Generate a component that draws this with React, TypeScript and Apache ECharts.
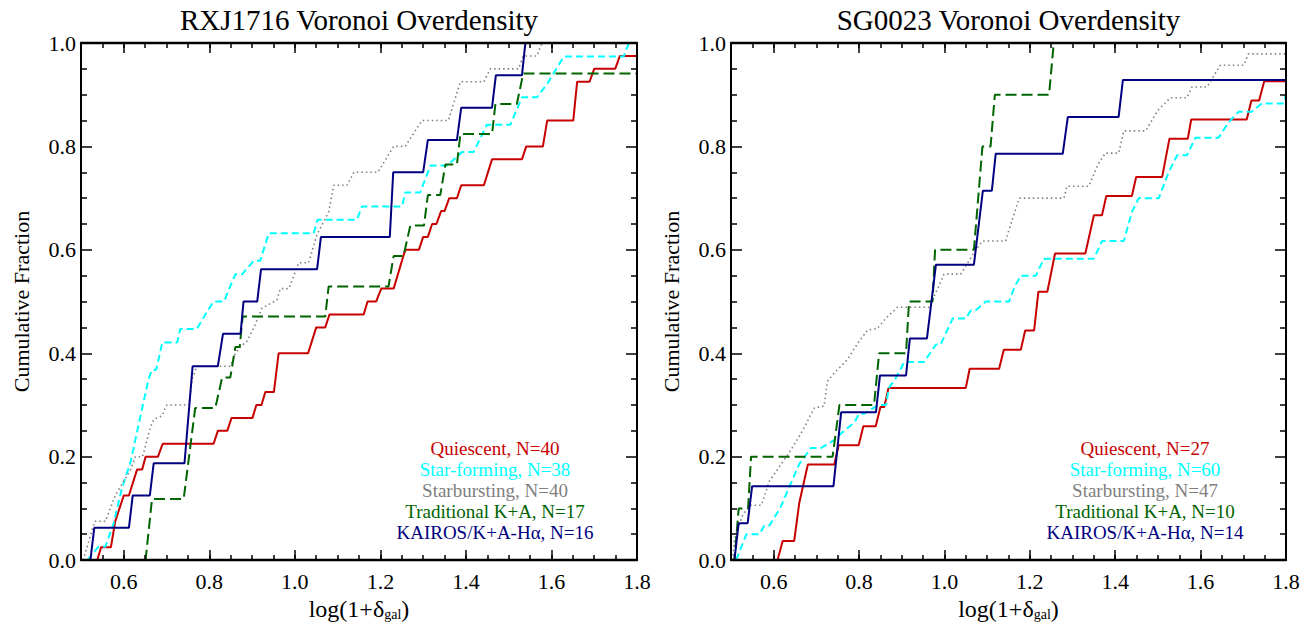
import React, { useEffect, useRef } from 'react';
import * as echarts from 'echarts';

const FONT = '"Liberation Serif", "Times New Roman", Times, serif';

// ---- axes / ticks ----
const X_MIN = 0.5;
const X_MAX = 1.8;
const xMajorTicks = [0.6, 0.8, 1.0, 1.2, 1.4, 1.6, 1.8];
const Y_MIN = 0;
const Y_MAX = 1;

const panelTitles = ['RXJ1716 Voronoi Overdensity', 'SG0023 Voronoi Overdensity'];
const yAxisTitle = 'Cumulative Fraction';

const seriesNames = ['Quiescent', 'Star-forming', 'Starbursting', 'Traditional K+A', 'KAIROS/K+A-Hα'];
const countsRXJ = [40, 38, 40, 17, 16];
const countsSG = [27, 60, 47, 10, 14];
const seriesColors = ['#C80000', '#00FFFF', '#7F7F7F', '#006400', '#000080'];

// ---- RXJ1716 cumulative fractions [log(1+delta), fraction] ----
const rxjQuiescent = [
  [0.538, 0], [0.547, 0.025], [0.570, 0.025], [0.580, 0.075], [0.600, 0.125], [0.612, 0.125], [0.631, 0.175], [0.643, 0.175],
  [0.651, 0.2], [0.680, 0.2], [0.691, 0.225], [0.810, 0.225], [0.820, 0.25], [0.842, 0.25], [0.852, 0.275], [0.901, 0.275],
  [0.910, 0.3], [0.922, 0.3], [0.931, 0.325], [0.951, 0.325], [0.962, 0.4], [1.031, 0.4], [1.050, 0.45], [1.071, 0.45],
  [1.081, 0.475], [1.161, 0.475], [1.170, 0.5], [1.190, 0.5], [1.202, 0.525], [1.231, 0.525], [1.258, 0.6], [1.290, 0.6],
  [1.300, 0.625], [1.311, 0.625], [1.321, 0.65], [1.331, 0.65], [1.342, 0.675], [1.350, 0.675], [1.361, 0.7], [1.379, 0.7],
  [1.389, 0.725], [1.442, 0.725], [1.461, 0.775], [1.531, 0.775], [1.541, 0.8], [1.580, 0.8], [1.590, 0.85], [1.651, 0.85],
  [1.660, 0.925], [1.689, 0.925], [1.700, 0.95], [1.749, 0.95], [1.760, 0.975], [1.800, 0.975],
];
const rxjStarForming = [
  [0.515, 0], [0.541, 0.026], [0.557, 0.026], [0.576, 0.07], [0.596, 0.14], [0.616, 0.19], [0.635, 0.263], [0.658, 0.35],
  [0.666, 0.368], [0.676, 0.368], [0.690, 0.421], [0.725, 0.421], [0.732, 0.447], [0.771, 0.447], [0.790, 0.474], [0.810, 0.5],
  [0.834, 0.5], [0.861, 0.553], [0.877, 0.553], [0.904, 0.579], [0.919, 0.579], [0.939, 0.632], [1.044, 0.632], [1.053, 0.658],
  [1.145, 0.658], [1.157, 0.684], [1.251, 0.684], [1.258, 0.711], [1.293, 0.711], [1.317, 0.763], [1.356, 0.763], [1.391, 0.789],
  [1.418, 0.789], [1.449, 0.842], [1.504, 0.842], [1.531, 0.895], [1.566, 0.895], [1.590, 0.921], [1.629, 0.974], [1.769, 0.974],
  [1.781, 1.0], [1.8, 1.0],
];
const rxjStarburst = [
  [0.505, 0], [0.532, 0.075], [0.557, 0.075], [0.580, 0.125], [0.616, 0.175], [0.627, 0.2], [0.644, 0.2], [0.651, 0.222],
  [0.662, 0.256], [0.670, 0.272], [0.690, 0.279], [0.697, 0.295], [0.701, 0.3], [0.752, 0.3], [0.760, 0.35], [0.771, 0.375],
  [0.849, 0.375], [0.861, 0.4], [0.873, 0.413], [0.888, 0.423], [0.904, 0.449], [0.923, 0.487], [0.958, 0.503], [0.966, 0.525],
  [0.986, 0.525], [1.009, 0.575], [1.032, 0.575], [1.052, 0.63], [1.079, 0.673], [1.091, 0.725], [1.122, 0.725], [1.138, 0.75],
  [1.194, 0.75], [1.231, 0.8], [1.258, 0.8], [1.297, 0.85], [1.359, 0.85], [1.387, 0.925], [1.442, 0.925], [1.457, 0.95],
  [1.523, 0.95], [1.534, 0.975], [1.566, 0.975], [1.578, 1.0], [1.8, 1.0],
];
const rxjTraditionalKA = [
  [0.5, 0], [0.651, 0], [0.666, 0.118], [0.740, 0.118], [0.767, 0.294], [0.814, 0.294], [0.830, 0.353], [0.849, 0.353],
  [0.861, 0.412], [0.871, 0.412], [0.878, 0.471], [1.071, 0.471], [1.079, 0.529], [1.219, 0.529], [1.231, 0.588], [1.254, 0.588],
  [1.270, 0.647], [1.302, 0.647], [1.311, 0.706], [1.340, 0.706], [1.352, 0.765], [1.379, 0.765], [1.387, 0.824], [1.461, 0.824],
  [1.469, 0.882], [1.519, 0.882], [1.534, 0.941], [1.8, 0.941],
];
const rxjKairos = [
  [0.503, 0], [0.522, 0], [0.531, 0.0625], [0.612, 0.0625], [0.621, 0.125], [0.661, 0.125], [0.670, 0.1875], [0.742, 0.1875],
  [0.761, 0.375], [0.820, 0.375], [0.832, 0.4375], [0.873, 0.4375], [0.880, 0.5], [0.912, 0.5], [0.921, 0.5625], [1.052, 0.5625],
  [1.061, 0.625], [1.222, 0.625], [1.230, 0.75], [1.300, 0.75], [1.311, 0.8125], [1.379, 0.8125], [1.389, 0.875], [1.461, 0.875],
  [1.470, 0.9375], [1.531, 0.9375], [1.539, 1.0], [1.8, 1.0],
];

// ---- SG0023 cumulative fractions ----
const sgQuiescent = [
  [0.5, 0], [0.609, 0], [0.621, 0.037], [0.648, 0.037], [0.660, 0.111], [0.680, 0.185], [0.742, 0.185], [0.752, 0.222],
  [0.799, 0.222], [0.810, 0.259], [0.839, 0.259], [0.850, 0.296], [0.859, 0.296], [0.869, 0.333], [1.050, 0.333], [1.059, 0.370],
  [1.128, 0.370], [1.139, 0.407], [1.179, 0.407], [1.189, 0.444], [1.210, 0.444], [1.220, 0.519], [1.241, 0.519], [1.259, 0.593],
  [1.330, 0.593], [1.350, 0.667], [1.369, 0.667], [1.379, 0.704], [1.439, 0.704], [1.449, 0.741], [1.510, 0.741], [1.527, 0.815],
  [1.570, 0.815], [1.578, 0.852], [1.708, 0.852], [1.719, 0.889], [1.737, 0.889], [1.749, 0.926], [1.8, 0.926],
];
const sgStarForming = [
  [0.512, 0], [0.536, 0.05], [0.567, 0.05], [0.578, 0.067], [0.590, 0.067], [0.615, 0.1], [0.641, 0.15], [0.660, 0.186],
  [0.6875, 0.217], [0.711, 0.217], [0.738, 0.23], [0.765, 0.25], [0.789, 0.266], [0.800, 0.283], [0.812, 0.283], [0.845, 0.3],
  [0.863, 0.3], [0.870, 0.333], [0.886, 0.352], [0.906, 0.383], [0.952, 0.383], [0.980, 0.417], [0.991, 0.417], [1.019, 0.467],
  [1.050, 0.467], [1.062, 0.483], [1.073, 0.483], [1.097, 0.5], [1.151, 0.5], [1.165, 0.53], [1.179, 0.55], [1.214, 0.55],
  [1.233, 0.583], [1.350, 0.583], [1.369, 0.617], [1.420, 0.617], [1.439, 0.673], [1.455, 0.70], [1.502, 0.70], [1.525, 0.75],
  [1.545, 0.783], [1.568, 0.783], [1.588, 0.817], [1.642, 0.817], [1.665, 0.846], [1.689, 0.867], [1.720, 0.867], [1.743, 0.883],
  [1.795, 0.883], [1.8, 0.9],
];
const sgStarburst = [
  [0.504, 0], [0.508, 0.04], [0.528, 0.089], [0.547, 0.106], [0.571, 0.106], [0.590, 0.153], [0.629, 0.199], [0.644, 0.218],
  [0.668, 0.251], [0.695, 0.294], [0.718, 0.298], [0.726, 0.346], [0.742, 0.362], [0.773, 0.388], [0.785, 0.404], [0.800, 0.423],
  [0.820, 0.445], [0.843, 0.448], [0.863, 0.468], [0.890, 0.489], [0.964, 0.489], [0.995, 0.545], [0.999, 0.553], [1.038, 0.553],
  [1.054, 0.574], [1.070, 0.596], [1.089, 0.617], [1.143, 0.617], [1.151, 0.638], [1.175, 0.70], [1.280, 0.70], [1.287, 0.723],
  [1.338, 0.723], [1.360, 0.766], [1.377, 0.787], [1.408, 0.787], [1.420, 0.830], [1.471, 0.830], [1.500, 0.870], [1.529, 0.894],
  [1.568, 0.894], [1.580, 0.915], [1.615, 0.915], [1.646, 0.957], [1.701, 0.957], [1.712, 0.979], [1.8, 0.979],
];
const sgTraditionalKA = [
  [0.5, 0], [0.508, 0], [0.518, 0.1], [0.540, 0.1], [0.547, 0.2], [0.738, 0.2], [0.754, 0.3], [0.835, 0.3], [0.847, 0.4],
  [0.910, 0.4], [0.917, 0.5], [0.972, 0.5], [0.978, 0.6], [1.069, 0.6], [1.089, 0.8], [1.108, 0.8], [1.118, 0.9], [1.245, 0.9],
  [1.256, 1.0], [1.8, 1.0],
];
const sgKairos = [
  [0.508, 0], [0.518, 0.0714], [0.539, 0.0714], [0.5495, 0.1429], [0.740, 0.1429], [0.758, 0.2857], [0.8395, 0.2857],
  [0.849, 0.3571], [0.910, 0.3571], [0.919, 0.4286], [0.959, 0.4286], [0.980, 0.5714], [1.069, 0.5714], [1.090, 0.7143],
  [1.111, 0.7143], [1.120, 0.7857], [1.277, 0.7857], [1.289, 0.8571], [1.408, 0.8571], [1.418, 0.9286], [1.8, 0.9286],
];

const rxjData = [rxjQuiescent, rxjStarForming, rxjStarburst, rxjTraditionalKA, rxjKairos];
const sgData = [sgQuiescent, sgStarForming, sgStarburst, sgTraditionalKA, sgKairos];

// layout
const grids = [
  { left: 81, top: 43, width: 556, height: 520 },
  { left: 731, top: 43, width: 555, height: 520 },
];
const lineTypes: any[] = ['solid', [7, 4], [1.5, 3], [11, 5], 'solid'];
const lineWidths = [2, 2, 1.6, 2, 2];

function xAxesFor(gridIndex: number) {
  const base = { type: 'value', gridIndex, min: X_MIN, max: X_MAX, splitLine: { show: false }, z: 10 };
  const line = { show: true, onZero: false, lineStyle: { color: '#000', width: 2.4 } };
  const tickStyle = { color: '#000', width: 1.5 };
  return [
    {
      ...base,
      position: 'bottom',
      axisLine: line,
      axisTick: { show: true, inside: true, length: 10, customValues: xMajorTicks, lineStyle: tickStyle },
      axisLabel: {
        show: true,
        customValues: xMajorTicks,
        formatter: (v: number) => v.toFixed(1),
        fontFamily: FONT,
        fontSize: 22,
        color: '#000',
        margin: 10,
      },
      name: '{a|log(1+δ}{b|gal}{a|)}',
      nameLocation: 'middle',
      nameGap: 29,
      nameTextStyle: {
        rich: {
          a: { fontFamily: FONT, fontSize: 24, color: '#000', lineHeight: 28, verticalAlign: 'bottom' },
          b: { fontFamily: FONT, fontSize: 14, color: '#000', lineHeight: 8, verticalAlign: 'bottom' },
        },
      },
    },
    {
      ...base,
      position: 'bottom',
      interval: 0.05,
      axisLine: { show: false, onZero: false },
      axisTick: { show: true, inside: true, length: 5, lineStyle: tickStyle },
      axisLabel: { show: false },
    },
    {
      ...base,
      position: 'top',
      axisLine: line,
      axisTick: { show: true, inside: true, length: 10, customValues: xMajorTicks, lineStyle: tickStyle },
      axisLabel: { show: false },
    },
    {
      ...base,
      position: 'top',
      interval: 0.05,
      axisLine: { show: false, onZero: false },
      axisTick: { show: true, inside: true, length: 5, lineStyle: tickStyle },
      axisLabel: { show: false },
    },
  ];
}

function yAxesFor(gridIndex: number) {
  const base = {
    type: 'value',
    gridIndex,
    min: Y_MIN,
    max: Y_MAX,
    interval: 0.2,
    z: 10,
    splitLine: { show: false },
    axisLine: { show: true, onZero: false, lineStyle: { color: '#000', width: 2 } },
    axisTick: { show: true, inside: true, length: 11, lineStyle: { color: '#000', width: 1.5 } },
    minorTick: { show: true, splitNumber: 4, length: 6, lineStyle: { color: '#000', width: 1.5 } },
    minorSplitLine: { show: false },
  };
  return [
    {
      ...base,
      position: 'left',
      axisLabel: {
        show: true,
        formatter: (v: number) => v.toFixed(1),
        fontFamily: FONT,
        fontSize: 22,
        color: '#000',
        margin: 5,
      },
      name: yAxisTitle,
      nameLocation: 'middle',
      nameGap: 49,
      nameTextStyle: { fontFamily: FONT, fontSize: 22, color: '#000' },
    },
    { ...base, position: 'right', axisLabel: { show: false } },
  ];
}

function buildSeries(datasets: number[][][], xAxisIndex: number, yAxisIndex: number, names: string[]) {
  return datasets.map((d, i) => ({
    type: 'line',
    name: names[i],
    xAxisIndex,
    yAxisIndex,
    data: d,
    symbol: 'none',
    showSymbol: false,
    silent: true,
    lineStyle: { color: seriesColors[i], width: lineWidths[i], type: lineTypes[i] },
    z: 2 + i,
  }));
}

function legendTexts(centerX: number, counts: number[]) {
  const y0 = 448;
  const dy = 21;
  return seriesNames.map((n, i) => ({
    type: 'text',
    x: centerX,
    y: y0 + i * dy,
    silent: true,
    style: {
      text: `${n}, N=${counts[i]}`,
      fill: seriesColors[i],
      font: `19px ${FONT}`,
      textAlign: 'center',
      textVerticalAlign: 'middle',
      align: 'center',
      verticalAlign: 'middle',
    },
  }));
}

function titleText(centerX: number, text: string) {
  return {
    type: 'text',
    x: centerX,
    y: 20,
    silent: true,
    style: {
      text,
      fill: '#000',
      font: `29px ${FONT}`,
      textAlign: 'center',
      textVerticalAlign: 'middle',
      align: 'center',
      verticalAlign: 'middle',
    },
  };
}

export default function App() {
  const ref = useRef<HTMLDivElement>(null);
  useEffect(() => {
    if (!ref.current) return;
    const chart = echarts.init(ref.current, null, { renderer: 'svg' });
    const option: any = {
      animation: false,
      backgroundColor: '#fff',
      grid: grids.map((g) => ({ ...g, containLabel: false, show: false })),
      xAxis: [...xAxesFor(0), ...xAxesFor(1)],
      yAxis: [...yAxesFor(0), ...yAxesFor(1)],
      series: [
        ...buildSeries(rxjData, 0, 0, seriesNames),
        ...buildSeries(sgData, 4, 2, seriesNames),
      ],
      graphic: [
        titleText(grids[0].left + grids[0].width / 2, panelTitles[0]),
        titleText(grids[1].left + grids[1].width / 2, panelTitles[1]),
        ...legendTexts(495, countsRXJ),
        ...legendTexts(1145, countsSG),
      ],
    };
    chart.setOption(option);
    return () => chart.dispose();
  }, []);
  return (
    <div
      ref={ref}
      style={{ position: 'absolute', left: 0, top: 0, width: 1311, height: 626, background: '#fff' }}
    />
  );
}
